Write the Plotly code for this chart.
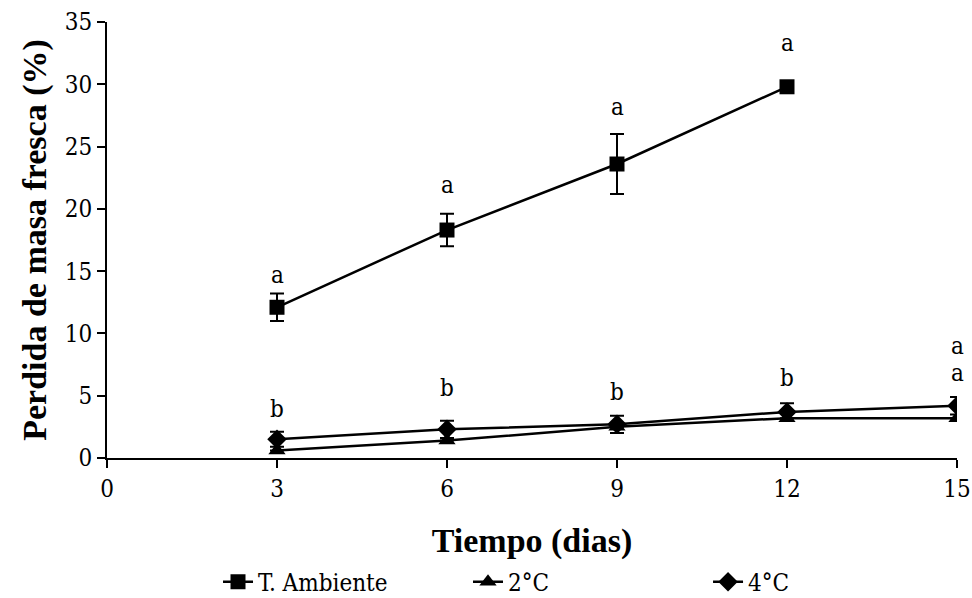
import plotly.graph_objects as go

dias = [3, 6, 9, 12, 15]
dias_amb = [3, 6, 9, 12]
amb = [12.1, 18.3, 23.6, 29.8]
amb_err = [1.1, 1.3, 2.4, 0.0]
t2 = [0.6, 1.4, 2.5, 3.2, 3.2]
t2_err = [0.0, 0.0, 0.0, 0.0, 0.0]
t4 = [1.5, 2.3, 2.7, 3.7, 4.2]
t4_err = [0.6, 0.7, 0.7, 0.7, 0.7]

letras_amb = ["a", "a", "a", "a"]
letras_amb_y = [14.7, 21.9, 28.2, 33.3]
letras_baj_x = [3, 6, 9, 12, 15, 15]
letras_baj = ["b", "b", "b", "b", "a", "a"]
letras_baj_y = [3.9, 5.6, 5.3, 6.4, 6.8, 9.0]

BOLD = "Times New Roman"
REG = "DejaVu Serif Condensed"
fig = go.Figure()

def add(x, y, err, name, sym, leg):
    fig.add_trace(go.Scatter(
        x=x, y=y, name=name, mode="lines+markers", legend=leg,
        line=dict(color="black", width=2.5),
        marker=dict(symbol=sym, size=15, color="black"),
        error_y=dict(type="data", array=err, visible=True, color="black", thickness=2, width=7),
    ))

add(dias_amb, amb, amb_err, "T. Ambiente", "square", "legend")
add(dias, t2, t2_err, "2°C", "triangle-up", "legend2")
add(dias, t4, t4_err, "4°C", "diamond", "legend3")

for x, t, y in zip(dias_amb, letras_amb, letras_amb_y):
    fig.add_annotation(x=x, y=y, text=t, showarrow=False, font=dict(family=REG, size=24, color="black"))
for x, t, y in zip(letras_baj_x, letras_baj, letras_baj_y):
    fig.add_annotation(x=x, y=y, text=t, showarrow=False, font=dict(family=REG, size=24, color="black"))

def leg(xpos):
    return dict(orientation="h", x=xpos, y=-0.285, xanchor="left", yanchor="middle",
                font=dict(family=REG, size=24, color="black"), bgcolor="rgba(0,0,0,0)")

fig.update_layout(
    width=972, height=598,
    margin=dict(l=107, r=15, t=22, b=140, autoexpand=False),
    paper_bgcolor="white", plot_bgcolor="white",
    font=dict(family=REG, color="black", size=24),
    showlegend=True,
    legend=leg(0.1306), legend2=leg(0.4247), legend3=leg(0.7071),
)
fig.update_xaxes(range=[0, 15], tickvals=[0, 3, 6, 9, 12, 15], showline=True, linecolor="black",
                 linewidth=2, ticks="outside", ticklen=8, tickwidth=2, tickcolor="black",
                 showgrid=False, zeroline=False, automargin=False,
                 title=dict(text="<b>Tiempo (dias)</b>", font=dict(family=BOLD, size=34), standoff=26),
                 tickfont=dict(family=REG, size=24, color="black"))
fig.update_yaxes(range=[0, 35], dtick=5, showline=True, linecolor="black",
                 linewidth=2, ticks="outside", ticklen=8, tickwidth=2, tickcolor="black",
                 showgrid=False, zeroline=False, automargin=False,
                 title=dict(text="<b>Perdida de masa fresca (%)</b>", font=dict(family=BOLD, size=34), standoff=8),
                 tickfont=dict(family=REG, size=24, color="black"))

fig.write_html("out.html")
